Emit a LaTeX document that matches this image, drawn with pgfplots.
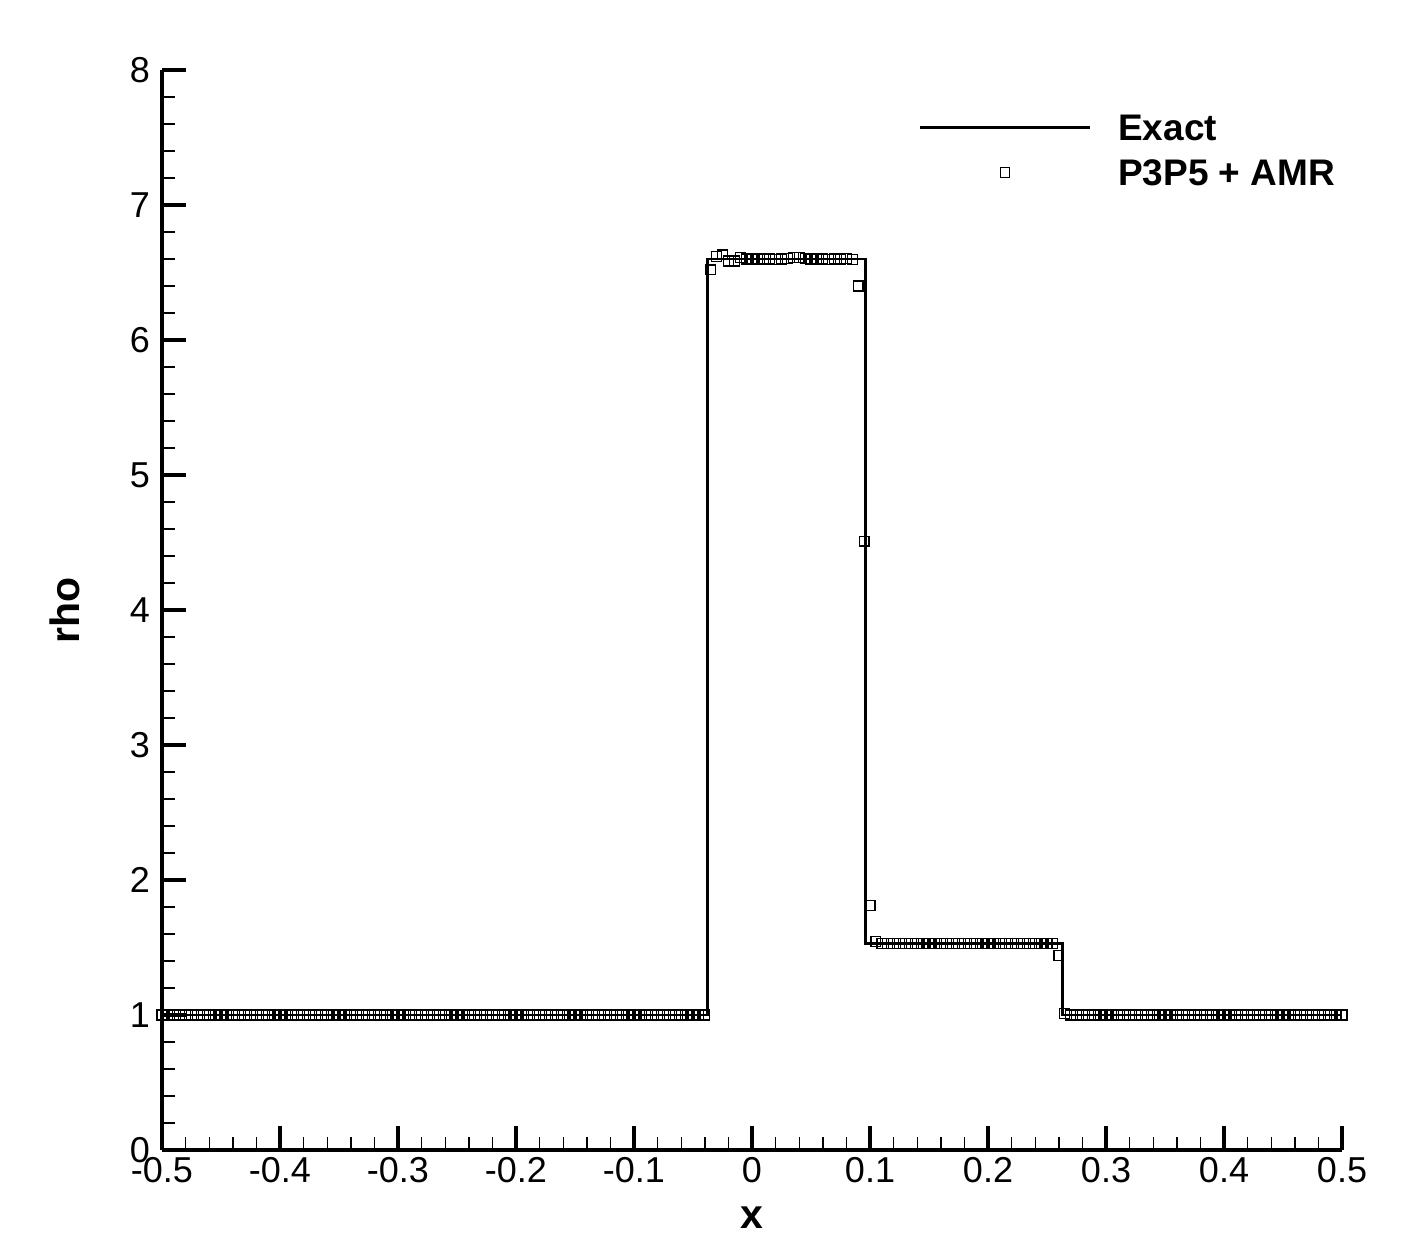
\documentclass[border=0pt]{standalone}
\usepackage{fontspec}
\setmainfont{Liberation Sans}
\usepackage{pgfplots}
\pgfplotsset{compat=1.18}
\begin{document}
\begin{tikzpicture}
\begin{axis}[
  name=ax,
  scale only axis,
  width=590pt, height=540pt,
  xmin=-0.5, xmax=0.5, ymin=0, ymax=8,
  clip=false,
  axis x line*=bottom, axis y line*=left,
  axis line style={line width=2pt},
  xtick={-0.5,-0.4,-0.3,-0.2,-0.1,0,0.1,0.2,0.3,0.4,0.5},
  xticklabels={-0.5,-0.4,-0.3,-0.2,-0.1,0,0.1,0.2,0.3,0.4,0.5},
  ytick={0,1,2,3,4,5,6,7,8},
  yticklabels={0,1,2,3,4,5,6,7,8},
  minor x tick num=4, minor y tick num=4,
  tick align=inside,
  major tick length=12pt, minor tick length=6.5pt,
  every major tick/.append style={line width=2.3pt, black},
  every minor tick/.append style={line width=0.7pt, black},
  ticklabel style={font=\fontsize{18}{18}\selectfont},
  yticklabel style={xshift=-2.5pt},
  xlabel={x}, ylabel={rho},
  label style={font=\fontsize{20.5}{20.5}\selectfont\bfseries},
  xlabel style={at={(axis description cs:0.5,-0.063)}, anchor=center},
  ylabel style={at={(axis description cs:-0.0822,0.5)}, anchor=center},
  legend style={draw=none, fill=none, at={(axis description cs:0.6407,0.9594)},
    anchor=north west, inner sep=0pt, column sep=13.5pt, row sep=9.3pt,
    font=\fontsize{18.5}{18.5}\selectfont\bfseries,
    nodes={inner sep=0pt, text height=13.2pt, text depth=0pt}},
  legend cell align=left,
]
% exact solution
\addplot[black, line width=1.4pt,
  legend image code/.code={\draw[black, line width=1.4pt] (0pt,0pt) -- (85pt,0pt);}]
  coordinates {(-0.5,1)(-0.038,1)(-0.038,6.6)(0.096,6.6)(0.096,1.53)(0.263,1.53)(0.263,1)(0.5,1)};
\addlegendentry{Exact}
% P3P5 + AMR
\addplot[only marks, mark=square, mark size=2.45pt, mark options={line width=0.65pt, black},
  legend image code/.code={\path[draw=none, fill=none] (0pt,0pt) rectangle (85pt,0pt);
    \draw[black, mark=square, mark size=2.35pt, mark options={line width=0.6pt}, only marks] plot coordinates {(42.5pt,0pt)};}]
  coordinates {
  (-0.5,1)(-0.495,1)(-0.49,1)(-0.485,1)(-0.48,1)(-0.475,1)(-0.47,1)(-0.465,1)(-0.46,1)(-0.455,1)
  (-0.45,1)(-0.445,1)(-0.44,1)(-0.435,1)(-0.43,1)(-0.425,1)(-0.42,1)(-0.415,1)(-0.41,1)(-0.405,1)
  (-0.4,1)(-0.395,1)(-0.39,1)(-0.385,1)(-0.38,1)(-0.375,1)(-0.37,1)(-0.365,1)(-0.36,1)(-0.355,1)
  (-0.35,1)(-0.345,1)(-0.34,1)(-0.335,1)(-0.33,1)(-0.325,1)(-0.32,1)(-0.315,1)(-0.31,1)(-0.305,1)
  (-0.3,1)(-0.295,1)(-0.29,1)(-0.285,1)(-0.28,1)(-0.275,1)(-0.27,1)(-0.265,1)(-0.26,1)(-0.255,1)
  (-0.25,1)(-0.245,1)(-0.24,1)(-0.235,1)(-0.23,1)(-0.225,1)(-0.22,1)(-0.215,1)(-0.21,1)(-0.205,1)
  (-0.2,1)(-0.195,1)(-0.19,1)(-0.185,1)(-0.18,1)(-0.175,1)(-0.17,1)(-0.165,1)(-0.16,1)(-0.155,1)
  (-0.15,1)(-0.145,1)(-0.14,1)(-0.135,1)(-0.13,1)(-0.125,1)(-0.12,1)(-0.115,1)(-0.11,1)(-0.105,1)
  (-0.1,1)(-0.095,1)(-0.09,1)(-0.085,1)(-0.08,1)(-0.075,1)(-0.07,1)(-0.065,1)(-0.06,1)(-0.055,1)
  (-0.05,1)(-0.045,1)(-0.04,1)
  (-0.035,6.52)(-0.03,6.62)(-0.025,6.63)(-0.02,6.585)(-0.015,6.585)(-0.01,6.61)(-0.005,6.6)
  (0,6.6)(0.005,6.6)(0.01,6.6)(0.015,6.6)(0.02,6.595)(0.025,6.6)(0.03,6.605)(0.035,6.61)
  (0.04,6.61)(0.045,6.605)(0.05,6.6)(0.055,6.595)(0.06,6.6)(0.065,6.595)(0.07,6.6)(0.075,6.6)
  (0.08,6.605)(0.085,6.595)
  (0.09,6.40)(0.095,4.51)(0.1,1.81)(0.105,1.545)
  (0.11,1.53)(0.115,1.53)(0.12,1.53)(0.125,1.53)(0.13,1.53)(0.135,1.53)(0.14,1.53)(0.145,1.53)
  (0.15,1.53)(0.155,1.53)(0.16,1.53)(0.165,1.53)(0.17,1.53)(0.175,1.53)(0.18,1.53)(0.185,1.53)
  (0.19,1.53)(0.195,1.53)(0.2,1.53)(0.205,1.53)(0.21,1.53)(0.215,1.53)(0.22,1.53)(0.225,1.53)
  (0.23,1.53)(0.235,1.53)(0.24,1.53)(0.245,1.53)(0.25,1.53)(0.255,1.53)
  (0.26,1.44)(0.265,1.01)
  (0.27,1)(0.275,1)(0.28,1)(0.285,1)(0.29,1)(0.295,1)(0.3,1)(0.305,1)(0.31,1)(0.315,1)
  (0.32,1)(0.325,1)(0.33,1)(0.335,1)(0.34,1)(0.345,1)(0.35,1)(0.355,1)(0.36,1)(0.365,1)
  (0.37,1)(0.375,1)(0.38,1)(0.385,1)(0.39,1)(0.395,1)(0.4,1)(0.405,1)(0.41,1)(0.415,1)
  (0.42,1)(0.425,1)(0.43,1)(0.435,1)(0.44,1)(0.445,1)(0.45,1)(0.455,1)(0.46,1)(0.465,1)
  (0.47,1)(0.475,1)(0.48,1)(0.485,1)(0.49,1)(0.495,1)(0.5,1)
  };
\addlegendentry{P3P5 + AMR}
\end{axis}
\path (ax.south west) ++(-81pt,-55pt) coordinate (bl);
\path (ax.north east) ++(37.5pt,35pt) coordinate (tr);
\path (bl) rectangle (tr);
\end{tikzpicture}
\end{document}
